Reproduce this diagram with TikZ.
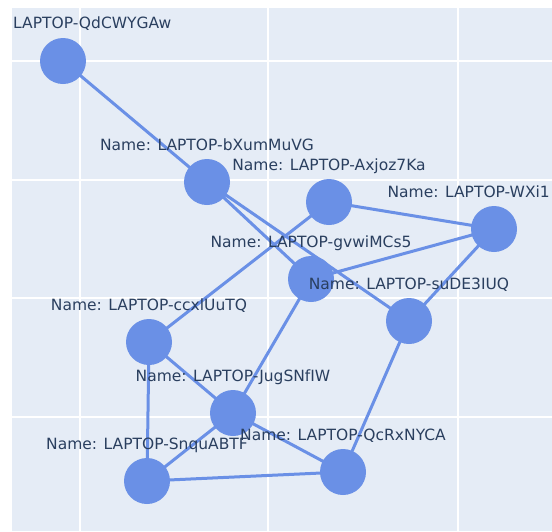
\documentclass[tikz,border=0pt]{standalone}
\usepackage{fontspec}
\setmainfont{DejaVu Sans}
\definecolor{plotbg}{HTML}{E5ECF6}
\definecolor{nodeblue}{RGB}{106,144,230}
\definecolor{labeltext}{HTML}{2A3F5F}
\tikzset{
  pc/.style={circle, fill=nodeblue, draw=none, minimum size=46pt, inner sep=0pt},
  edge/.style={draw=nodeblue, line width=3pt},
  grid line/.style={draw=white, line width=2pt},
  lbl/.style={text=labeltext, font=\fontsize{15.5pt}{18pt}\selectfont, inner sep=0pt, anchor=base}
}
\begin{document}
\begin{tikzpicture}[x=1pt,y=-1pt]
\useasboundingbox (0,0) rectangle (552,531);
\fill[white] (0,0) rectangle (552,531);
\fill[plotbg] (12,8) rectangle (552,531);
\begin{scope}[grid line]
\foreach \gx in {80,268,458} \draw (\gx,8) -- (\gx,531);
\foreach \gy in {61,180,298,417} \draw (12,\gy) -- (552,\gy);
\end{scope}
% node positions
\coordinate (q) at (63,61);
\coordinate (b) at (207,182);
\coordinate (a) at (329,202);
\coordinate (w) at (494,229);
\coordinate (g) at (311,279);
\coordinate (s) at (409,321);
\coordinate (c) at (149,342);
\coordinate (j) at (233,413);
\coordinate (n) at (147,481);
\coordinate (r) at (343,472);
% edges
\path[edge] (q) -- (b)
            (b) -- (g)
            (b) -- (s)
            (a) -- (w)
            (a) -- (c)
            (w) -- (g)
            (w) -- (s)
            (g) -- (j)
            (s) -- (r)
            (c) -- (j)
            (c) -- (n)
            (j) -- (n)
            (j) -- (r)
            (n) -- (r);
% nodes on top
\foreach \nm in {q,b,a,w,g,s,c,j,n,r}
  \node[pc] (\nm-dot) at (\nm) {};
% labels
\node[lbl, anchor=base west] (lq) at (13,28.5) {LAPTOP-QdCWYGAw};
\node[lbl] (lb) at (207,150.5) {Name: LAPTOP-bXumMuVG};
\node[lbl] (la) at (329,170.5) {Name: LAPTOP-Axjoz7Ka};
\node[lbl, anchor=base east] (lw) at (550,197.5) {Name: LAPTOP-WXi1};
\node[lbl] (lg) at (311,247.5) {Name: LAPTOP-gvwiMCs5};
\node[lbl] (ls) at (409,289.5) {Name: LAPTOP-suDE3IUQ};
\node[lbl] (lc) at (149,310.5) {Name: LAPTOP-ccxlUuTQ};
\node[lbl] (lj) at (233,381.5) {Name: LAPTOP-JugSNfIW};
\node[lbl] (ln) at (147,449.5) {Name: LAPTOP-SnquABTF};
\node[lbl] (lr) at (343,440.5) {Name: LAPTOP-QcRxNYCA};
\end{tikzpicture}
\end{document}
